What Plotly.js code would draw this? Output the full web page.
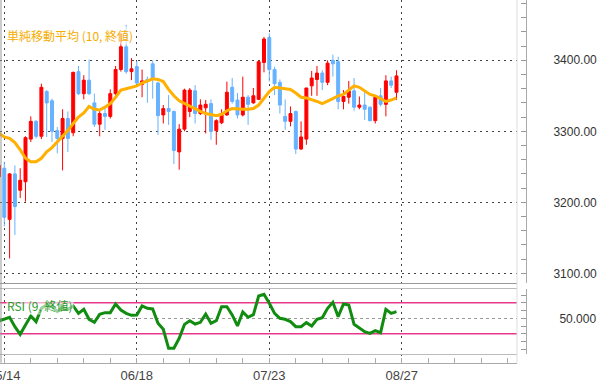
<!DOCTYPE html>
<html><head><meta charset="utf-8">
<script src="https://cdn.plot.ly/plotly-3.0.1.min.js"></script>
<style>html,body{margin:0;padding:0;background:#fff}#chart{width:602px;height:383px}</style>
</head><body><div id="chart"></div>
<script>
// candle index (trading days)
const idx = [0,1,2,3,4,5,6,7,8,9,10,11,12,13,14,15,16,17,18,19,20,21,22,23,24,25,26,27,28,29,30,31,32,33,34,35,36,37,38,39,40,41,42,43,44,45,46,47,48,49,50,51,52,53,54,55,56,57,58,59,60,61,62,63,64,65,66,67,68,69,70,71,72,73,74,75];
const tickIdx = [1,26,51,76];
const tickLabels = ['05/14','06/18','07/23','08/27'];

const openP  = [3236,3248,3176,3240,3217,3229,3289,3314,3293,3356,3343,3301,3290,3318,3298,3384,3353,3372,3340,3310,3325,3321,3353,3387,3419,3384,3391,3366,3373,3395,3368,3323,3332,3328,3271,3303,3328,3357,3325,3333,3339,3301,3312,3323,3362,3344,3323,3348,3340,3345,3397,3432,3387,3369,3321,3314,3328,3275,3289,3364,3373,3382,3369,3400,3398,3342,3348,3357,3334,3337,3334,3315,3350,3338,3371,3355];
const highP  = [3258,3257,3241,3252,3248,3293,3321,3316,3367,3358,3346,3306,3331,3328,3384,3392,3379,3401,3353,3330,3335,3359,3392,3439,3450,3403,3399,3387,3377,3400,3370,3337,3351,3329,3310,3360,3361,3365,3345,3344,3345,3317,3331,3370,3375,3354,3377,3351,3361,3400,3433,3438,3391,3373,3345,3335,3329,3314,3361,3385,3392,3386,3400,3408,3405,3358,3371,3375,3349,3358,3335,3350,3361,3379,3377,3386];
const lowP   = [3225,3166,3121,3154,3206,3201,3285,3290,3289,3292,3285,3269,3245,3271,3293,3351,3345,3351,3306,3293,3302,3318,3351,3384,3381,3372,3366,3348,3340,3346,3295,3311,3309,3254,3246,3300,3320,3311,3323,3297,3288,3281,3310,3322,3339,3318,3321,3309,3339,3344,3383,3370,3351,3325,3302,3307,3268,3274,3281,3350,3350,3358,3365,3377,3331,3331,3339,3329,3331,3316,3314,3311,3335,3321,3361,3344];
const closeP = [3252,3179,3240,3194,3231,3291,3314,3293,3362,3340,3300,3290,3318,3290,3383,3353,3372,3353,3310,3325,3321,3353,3387,3419,3384,3388,3368,3371,3371,3373,3322,3332,3328,3273,3303,3358,3358,3325,3337,3338,3300,3315,3323,3355,3342,3323,3348,3338,3350,3398,3430,3387,3367,3337,3314,3325,3275,3292,3361,3375,3382,3369,3396,3395,3342,3349,3357,3334,3337,3331,3315,3348,3338,3371,3365,3378];

// 単純移動平均 (10, 終値)
const sma10 = [3297,3292,3290,3284,3274,3262,3257,3257,3262,3271,3277,3285,3292,3301,3311,3320,3326,3335,3331,3330,3334,3339,3348,3358,3360,3362,3364,3368,3371,3374,3373,3370,3359,3350,3343,3339,3335,3332,3328,3325,3323,3322,3324,3329,3332,3331,3331,3331,3332,3337,3346,3356,3362,3361,3359,3359,3354,3348,3347,3345,3342,3339,3342,3346,3350,3352,3358,3364,3362,3357,3352,3350,3346,3342,3344,3347];

// RSI (9, 終値)
const rsi9 = [46.5,48.7,51.3,39.2,29.3,41.4,53.0,45.7,62.9,67.2,65.0,58.6,64.2,61.6,65.9,56.4,61.6,48.7,44.8,55.1,57.3,57.3,68.5,60.7,56.4,53.8,54.3,65.9,62.9,62.0,43.5,35.8,11.3,11.3,24.2,42.2,46.9,42.6,44.8,55.5,43.5,46.9,65.0,65.0,54.3,40.1,58.1,51.3,54.7,78.8,80.9,69.3,56.4,50.0,48.7,45.7,39.2,39.2,44.4,40.1,48.7,50.8,62.9,70.6,52.1,68.5,67.2,42.2,37.1,32.7,30.6,34.0,31.5,61.6,56.4,58.6];
const rsiLevels = [70, 30];

const W = 602, H = 383;
const px = v => v / W, py = v => 1 - v / H;
const xRange = [0.19, 97.74];
const xDom = [0, px(517)];
const yAxisPos = px(526);
const gridDash = '2px,4px';

const traces = [
  {type:'scatter', x:[null], y:[null], xaxis:'x', yaxis:'y', hoverinfo:'skip', mode:'lines'},
  {type:'candlestick', x: idx, open: openP, high: highP, low: lowP, close: closeP,
   xaxis:'x2', yaxis:'y2', whiskerwidth:0,
   increasing:{line:{color:'#ff0000', width:1}, fillcolor:'#ff0000'},
   decreasing:{line:{color:'#66b2ff', width:1}, fillcolor:'#66b2ff'}},
  {type:'scatter', mode:'lines', x: idx, y: sma10, xaxis:'x2', yaxis:'y2',
   line:{color:'#ffb000', width:3}},
  {type:'scatter', mode:'lines', x: idx, y: rsi9, xaxis:'x3', yaxis:'y3',
   line:{color:'#118c11', width:3}}
];

const shapes = rsiLevels.map(v => ({type:'line', xref:'x3 domain', x0:0, x1:1, yref:'y3', y0:v, y1:v,
  line:{color:'#e8388c', width:1.5}, layer:'below'}));

const layout = {
  width: W, height: H,
  margin:{l:0, r:0, t:0, b:0, pad:0},
  paper_bgcolor:'#ffffff', plot_bgcolor:'rgba(0,0,0,0)',
  showlegend:false, hovermode:false, boxgap:0.2,
  font:{family:'Liberation Sans, Arial, sans-serif', size:12, color:'#333'},
  xaxis:{domain:xDom, range:xRange, anchor:'y', tickmode:'array', tickvals:tickIdx, ticktext:tickLabels,
    showgrid:true, gridcolor:'#444', griddash:gridDash, gridwidth:1,
    ticks:'inside', ticklen:5, tickcolor:'#aaa', showline:true, linecolor:'#aaa', zeroline:false,
    tickfont:{size:13, color:'#444'}, ticklabeloverflow:'allow', ticklabelstandoff:1,
    minor:{tick0:1, dtick:5, ticks:'inside', ticklen:5, tickcolor:'#aaa', showgrid:false}},
  yaxis:{domain:[py(362.7), 1], range:[0,1], visible:false},
  xaxis2:{domain:xDom, range:xRange, anchor:'y2', showticklabels:false, ticks:'', showgrid:false,
    showline:true, mirror:true, linecolor:'#999', zeroline:false, rangeslider:{visible:false}},
  yaxis2:{domain:[py(282.7), 1], range:[3086.8, 3484.9], anchor:'free', position:yAxisPos, side:'right',
    tick0:0, dtick:100, tickformat:'.2f', showgrid:true, gridcolor:'#444', griddash:gridDash, gridwidth:1,
    ticks:'inside', ticklen:5, tickcolor:'#999', showline:true, linecolor:'#aaa', zeroline:false,
    ticklabelstandoff:24,
    minor:{dtick:20, ticks:'inside', ticklen:5, tickcolor:'#999', showgrid:false}},
  xaxis3:{domain:xDom, range:xRange, anchor:'y3', showticklabels:false, ticks:'', showgrid:false,
    showline:true, mirror:true, linecolor:'#bbb', zeroline:false},
  yaxis3:{domain:[py(353.5), py(289.3)], range:[4.6, 87.4], anchor:'free', position:yAxisPos, side:'right',
    tick0:0, dtick:50, tickformat:'.3f', showgrid:true, gridcolor:'#999', griddash:'3px,3px', gridwidth:1,
    ticks:'inside', ticklen:5, tickcolor:'#999', showline:true, linecolor:'#aaa', zeroline:false,
    ticklabelstandoff:30,
    minor:{dtick:10, ticks:'inside', ticklen:5, tickcolor:'#999', showgrid:false}},
  shapes: shapes.concat([
    {type:'line', xref:'paper', yref:'paper', x0:px(1), x1:px(1), y0:py(362.7), y1:1, line:{color:'#999', width:1}},
    {type:'line', xref:'paper', yref:'paper', x0:px(517), x1:px(517), y0:py(362.7), y1:1, line:{color:'#ddd', width:1}}
  ]),
  annotations:[
    {text:'単純移動平均 (10, 終値)', xref:'paper', yref:'paper', x:px(6), y:py(35), xanchor:'left', yanchor:'middle',
     showarrow:false, bgcolor:'rgba(255,255,255,0.6)', borderpad:0,
     font:{family:'Noto Sans CJK JP', size:12, color:'#f5ad00'}},
    {text:'RSI (9, 終値)', xref:'paper', yref:'paper', x:px(6), y:py(305), xanchor:'left', yanchor:'middle',
     showarrow:false, bgcolor:'rgba(255,255,255,0.6)', borderpad:0,
     font:{family:'Noto Sans CJK JP', size:12, color:'#2c9c2c'}}
  ]
};

Plotly.newPlot('chart', traces, layout, {staticPlot:true, displayModeBar:false});
</script></body></html>
